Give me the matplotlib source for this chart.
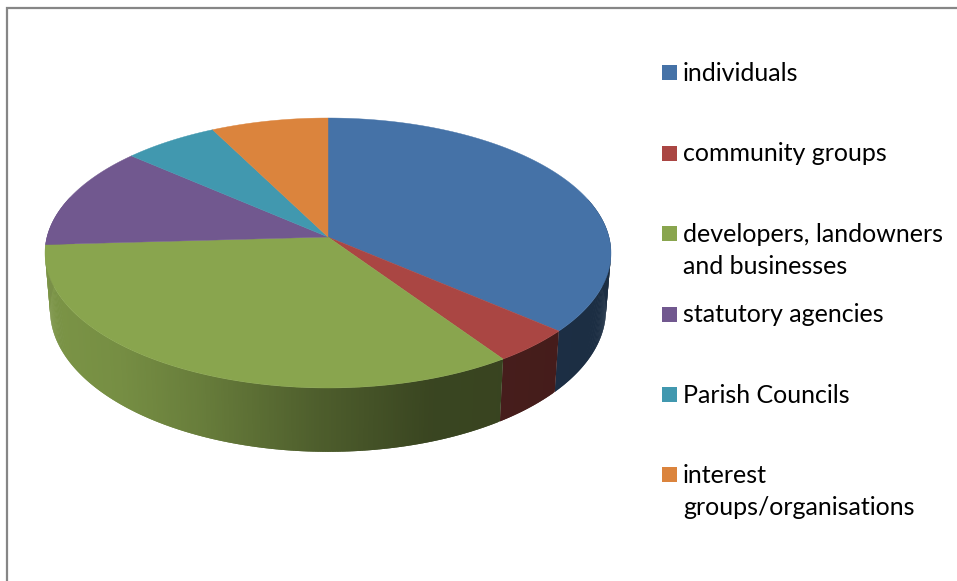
import numpy as np
import matplotlib
matplotlib.use("Agg")
import matplotlib.pyplot as plt
from matplotlib.collections import PolyCollection
from matplotlib.patches import Rectangle

labels = ["individuals", "community groups", "developers, landowners\nand businesses",
          "statutory agencies", "Parish Councils", "interest\ngroups/organisations"]
values = [36.3, 4.2, 33.6, 12.3, 6.1, 7.5]
colors = ["#4572A7", "#AA4643", "#89A54E", "#71588F", "#4198AF", "#DB843D"]


def project(t, cx, cy, a, b, c):
    # circle -> screen with a bit of perspective, t is clockwise from 12 o'clock
    u, v = np.sin(t), np.cos(t)
    w = 1 + b * v
    return cx + c * u / w, cy - a * v / w


def top(t):
    return project(t, 328, 237, 133.1, 0.1185, 281)


def bottom(t):
    return project(t, 328, 293, 140, 0.1185, 276)


def shade(x):
    return np.interp(x, [44, 120, 200, 330, 430, 611], [0.90, 0.86, 0.76, 0.55, 0.42, 0.40])


fig = plt.figure(figsize=(9.57, 5.81), dpi=100)
ax = fig.add_axes([0, 0, 1, 1])
ax.set_xlim(0, 957)
ax.set_ylim(581, 0)
ax.axis("off")

edges = np.cumsum([0] + values) / sum(values) * 2 * np.pi

# sides first, back to front so nothing from behind shows at the rim
facets = []
for i in range(len(values)):
    t = np.linspace(edges[i], edges[i + 1], max(int(values[i] * 8), 4))
    rgb = np.array(matplotlib.colors.to_rgb(colors[i]))
    for j in range(len(t) - 1):
        # runs one step into the next facet, hides the seams
        k = min(j + 2, len(t) - 1)
        if np.cos(t[j]) > 0.3:
            continue
        facets.append((np.cos(t[j]), t[j], t[k], rgb))
facets.sort(key=lambda f: -f[0])

polys = []
cols = []
for _, t0, t1, rgb in facets:
    ends = np.array([t0, t1])
    xt, yt = top(ends)
    xb, yb = bottom(ends)
    polys.append([(xt[0], yt[0]), (xt[1], yt[1]), (xb[1], yb[1]), (xb[0], yb[0])])
    cols.append(rgb * shade(xt.mean()))
ax.add_collection(PolyCollection(polys, facecolors=cols, edgecolors="none"))

for i in range(len(values)):
    t = np.linspace(edges[i], edges[i + 1], 200)
    xt, yt = top(t)
    ax.fill(np.r_[328, xt], np.r_[237, yt], color=colors[i], lw=0.3, zorder=3)

# chart frame, only top and left fall inside the crop
ax.plot([6.5, 6.5, 957], [581, 7.5, 7.5], color="#868686", lw=1.6, zorder=4, solid_joinstyle="miter")

# legend by hand: the entries sit on an even pitch whatever their line count
for i, (lab, col) in enumerate(zip(labels, colors)):
    ax.add_patch(Rectangle((662, 65.3 + 80.4 * i), 15, 15, facecolor=col, edgecolor="none"))
    # baseline of a multi-line text is its last line
    ax.text(683, 81 + 80.4 * i + 32 * lab.count("\n"), lab, family="Lato", fontsize=18, color="black",
            va="baseline", ha="left", linespacing=1.47)

fig.savefig("out.png", dpi=100)
